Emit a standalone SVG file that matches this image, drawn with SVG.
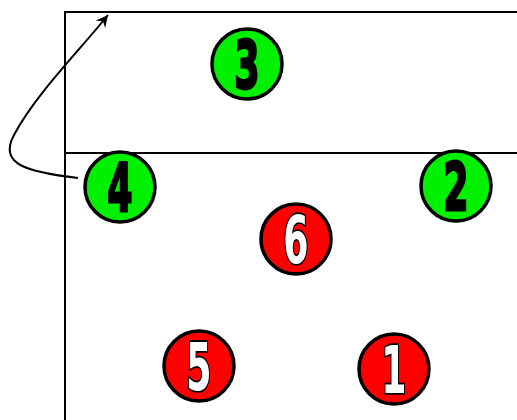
<svg xmlns="http://www.w3.org/2000/svg" width="517" height="420" viewBox="0 0 517 420">
<style>
.court{stroke:#000;stroke-width:2;fill:none}
.g{fill:#00f000;stroke:#000;stroke-width:3.5}
.r{fill:#ff0000;stroke:#000;stroke-width:3.5}
.tg{font-family:"DejaVu Sans","Liberation Sans",sans-serif;font-weight:bold;font-size:66px;fill:#000;stroke:#000;stroke-width:3;text-anchor:middle}
.tr{font-family:"DejaVu Sans","Liberation Sans",sans-serif;font-weight:bold;font-size:66px;fill:#fff;stroke:#000;stroke-width:3.5;paint-order:stroke;text-anchor:middle}
</style>
<defs>
<marker id="ah" markerWidth="14" markerHeight="12" refX="12" refY="6" orient="auto" markerUnits="userSpaceOnUse">
<path d="M0,0 L12,6 L0,12 L4,6 Z" fill="#000"/>
</marker>
</defs>
<rect width="517" height="420" fill="#fff"/>
<g id="court">
<path class="court" d="M65,420 L65,12 L517,12"/>
<path class="court" d="M65,153 L517,153"/>
</g>
<g id="connectors">
<path d="M78,178 C28,172 -2,165 14,135 C35,95 80,50 108,15" fill="none" stroke="#000" stroke-width="2" marker-end="url(#ah)"/>
</g>
<g id="p3"><circle class="g" cx="247" cy="64" r="35"/><text class="tg" x="0" y="88" transform="translate(247 0) scale(0.55 1)">3</text></g>
<g id="p4"><circle class="g" cx="120" cy="187" r="35"/><text class="tg" x="0" y="211" transform="translate(120 0) scale(0.55 1)">4</text></g>
<g id="p2"><circle class="g" cx="456" cy="186" r="35"/><text class="tg" x="0" y="210" transform="translate(456 0) scale(0.55 1)">2</text></g>
<g id="p6"><circle class="r" cx="296" cy="239" r="35"/><text class="tr" x="0" y="263" transform="translate(296 0) scale(0.55 1)">6</text></g>
<g id="p5"><circle class="r" cx="199" cy="366" r="35"/><text class="tr" x="0" y="390" transform="translate(199 0) scale(0.55 1)">5</text></g>
<g id="p1"><circle class="r" cx="394" cy="369" r="35"/><text class="tr" x="0" y="393" transform="translate(394 0) scale(0.55 1)">1</text></g>
</svg>
